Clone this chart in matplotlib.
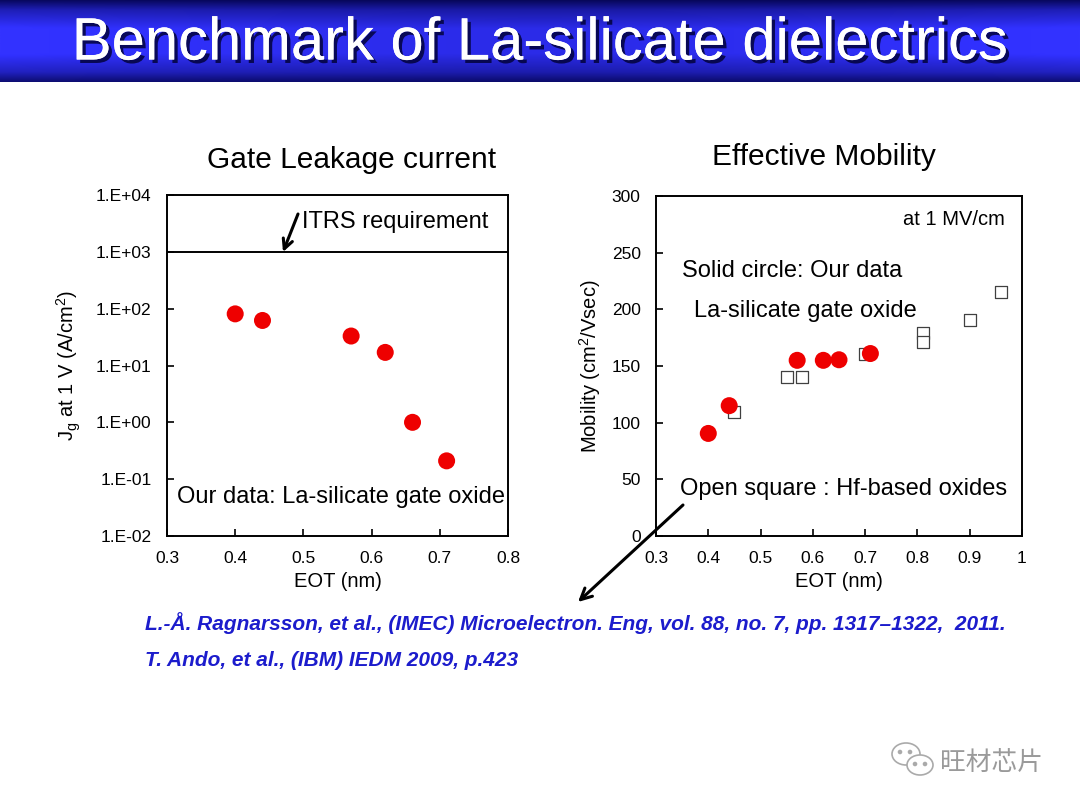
import numpy as np
import matplotlib
matplotlib.use("Agg")
import matplotlib.pyplot as plt
import matplotlib.patheffects as pe
from matplotlib.patches import Ellipse, Circle

plt.rcParams['font.family'] = ['Liberation Sans', 'DejaVu Sans']
plt.rcParams['mathtext.fontset'] = 'custom'
plt.rcParams['mathtext.rm'] = 'Liberation Sans'
plt.rcParams['mathtext.it'] = 'Liberation Sans:italic'

# ---------------- data ----------------
title = "Benchmark of La-silicate dielectrics"

leak_eot = [0.40, 0.44, 0.57, 0.62, 0.66, 0.71]
leak_jg = [81, 62, 33, 17, 1.0, 0.21]
itrs_req = 1e3
leak_yticks = [1e-2, 1e-1, 1e0, 1e1, 1e2, 1e3, 1e4]
leak_yticklabels = ["1.E-02", "1.E-01", "1.E+00", "1.E+01", "1.E+02", "1.E+03", "1.E+04"]
leak_xticks = [0.3, 0.4, 0.5, 0.6, 0.7, 0.8]

mob_our_eot = [0.40, 0.44, 0.57, 0.62, 0.65, 0.71]
mob_our = [90.5, 115, 155, 155, 155.5, 161]
mob_hf_eot = [0.45, 0.55, 0.58, 0.70, 0.81, 0.81, 0.90, 0.96]
mob_hf = [109.5, 140.5, 140.5, 160.5, 179.5, 171, 190.5, 215.5]
mob_xticks = [0.3, 0.4, 0.5, 0.6, 0.7, 0.8, 0.9, 1.0]
mob_xticklabels = ["0.3", "0.4", "0.5", "0.6", "0.7", "0.8", "0.9", "1"]
mob_yticks = [0, 50, 100, 150, 200, 250, 300]

refs = ["L.-\u00c5. Ragnarsson, et al., (IMEC) Microelectron. Eng, vol. 88, no. 7, pp. 1317\u20131322,  2011.",
        "T. Ando, et al., (IBM) IEDM 2009, p.423"]

W, H = 1080, 810
fig = plt.figure(figsize=(10.8, 8.1), dpi=100)
fig.patch.set_facecolor('white')

def fx(px):
    return px / W

def fy(py):
    return 1 - py / H

# ---------------- title bar ----------------
bar_h = 82
axb = fig.add_axes([0, fy(bar_h), 1, bar_h / H])
t = np.linspace(0, 1, 200)
prof = np.interp(t, [0, 0.12, 0.35, 0.65, 0.88, 1.0], [0.15, 0.6, 1.0, 1.0, 0.65, 0.25])
hx = np.linspace(0, 1, 400)
hprof = 0.85 + 0.15 * (np.abs(hx - 0.5) * 2) ** 1.5
img = np.zeros((200, 400, 3))
P = prof[:, None] * hprof[None, :]
img[..., 0] = 0.2 * P
img[..., 1] = 0.2 * P
img[..., 2] = np.clip(0.25 + 0.78 * P, 0, 1)
axb.imshow(img, aspect='auto', extent=[0, 1, 0, 1], origin='upper')
axb.set_xlim(0, 1); axb.set_ylim(0, 1)
axb.axis('off')
fig.text(0.5, fy(44), title, ha='center', va='center', color='white', fontsize=43,
         path_effects=[pe.withSimplePatchShadow(offset=(2.5, -2.5), shadow_rgbFace='#000030', alpha=0.8),
                       pe.Normal()])

tick_kw = dict(direction='in', length=5, width=1.2, labelsize=12.5, pad=11)

# ---------------- left: leakage ----------------
ax1 = fig.add_axes([fx(167), fy(536), (508 - 167) / W, (536 - 195) / H])
ax1.set_yscale('log')
ax1.scatter(leak_eot, leak_jg, s=150, color='#ee0000', edgecolors='none', zorder=3)
ax1.axhline(itrs_req, color='black', lw=1.4)
ax1.set_xlim(0.3, 0.8)
ax1.set_ylim(1e-2, 1e4)
ax1.set_xticks(leak_xticks)
ax1.set_xticklabels([f"{v:.1f}" for v in leak_xticks])
ax1.set_yticks(leak_yticks)
ax1.set_yticklabels(leak_yticklabels)
ax1.minorticks_off()
ax1.tick_params(**tick_kw)
for s in ax1.spines.values():
    s.set_linewidth(1.4)
ax1.set_xlabel("EOT (nm)", fontsize=14.5, labelpad=4)
ax1.set_ylabel(r"J$_{\mathregular{g}}$ at 1 V (A/cm$^{\mathregular{2}}$)", fontsize=14.5, labelpad=9)
fig.text(fx(351.5), fy(160), "Gate Leakage current", fontsize=21.5, ha='center', va='center')
ax1.text(0.498, 10 ** 3.525, "ITRS requirement", fontsize=17, ha='left', va='center')
ax1.text(0.3147, 10 ** -1.317, "Our data: La-silicate gate oxide", fontsize=17, ha='left', va='center')

# ---------------- right: mobility ----------------
ax2 = fig.add_axes([fx(656), fy(536), (1022 - 656) / W, (536 - 196) / H])
ax2.scatter(mob_hf_eot, mob_hf, s=85, marker='s', facecolors='white', edgecolors='#404040',
            linewidths=0.9, zorder=2)
ax2.scatter(mob_our_eot, mob_our, s=150, color='#ee0000', edgecolors='none', zorder=3)
ax2.set_xlim(0.3, 1.0)
ax2.set_ylim(0, 300)
ax2.set_xticks(mob_xticks)
ax2.set_xticklabels(mob_xticklabels)
ax2.set_yticks(mob_yticks)
ax2.tick_params(**tick_kw)
for s in ax2.spines.values():
    s.set_linewidth(1.4)
ax2.set_xlabel("EOT (nm)", fontsize=14.5, labelpad=4)
ax2.set_ylabel(r"Mobility (cm$^{\mathregular{2}}$/Vsec)", fontsize=14.5, labelpad=6)
fig.text(fx(823.5), fy(157), "Effective Mobility", fontsize=21.5, ha='center', va='center')
ax2.text(0.967, 279.5, "at 1 MV/cm", fontsize=14.5, ha='right', va='center')
ax2.text(0.35, 233.8, "Solid circle: Our data", fontsize=17, ha='left', va='center')
ax2.text(0.3727, 198.5, "La-silicate gate oxide", fontsize=17, ha='left', va='center')
ax2.text(0.3459, 41.5, "Open square : Hf-based oxides", fontsize=17, ha='left', va='center')

# ---------------- arrows ----------------
fig.add_artist(plt.Annotation("", xy=(283, H - 252), xycoords='figure pixels',
                              xytext=(298, H - 214), textcoords='figure pixels',
                              arrowprops=dict(arrowstyle='->,head_length=0.7,head_width=0.35',
                                              lw=2.2, color='black', shrinkA=0, shrinkB=0)))
fig.add_artist(plt.Annotation("", xy=(578, H - 602), xycoords='figure pixels',
                              xytext=(683, H - 505), textcoords='figure pixels',
                              arrowprops=dict(arrowstyle='->,head_length=0.8,head_width=0.4',
                                              lw=2.2, color='black', shrinkA=0, shrinkB=0)))

# ---------------- references ----------------
fig.text(fx(145), fy(623), refs[0], fontsize=15, color='#1c1ccc', fontweight='bold',
         fontstyle='italic', ha='left', va='center')
fig.text(fx(145), fy(660), refs[1], fontsize=15, color='#1c1ccc', fontweight='bold',
         fontstyle='italic', ha='left', va='center')

# ---------------- watermark ----------------
fig.text(fx(940), fy(763), "旺材芯片", fontsize=18.5, color='#9a9a9a', ha='left', va='center',
         family=['Noto Sans CJK SC', 'DejaVu Sans'])
axw = fig.add_axes([fx(888), fy(785), 50 / W, 50 / H])
axw.set_xlim(0, 50); axw.set_ylim(0, 50); axw.axis('off')
axw.add_patch(Ellipse((18, 31), 28, 22, fill=False, ec='#aaaaaa', lw=1.2))
axw.add_patch(Ellipse((32, 20), 26, 20, fill=True, fc='white', ec='#aaaaaa', lw=1.2))
for cx, cy in [(12, 33), (22, 33), (27, 21), (37, 21)]:
    axw.add_patch(Circle((cx, cy), 1.6, color='#aaaaaa'))

fig.savefig("out.png", dpi=100, facecolor='white')
